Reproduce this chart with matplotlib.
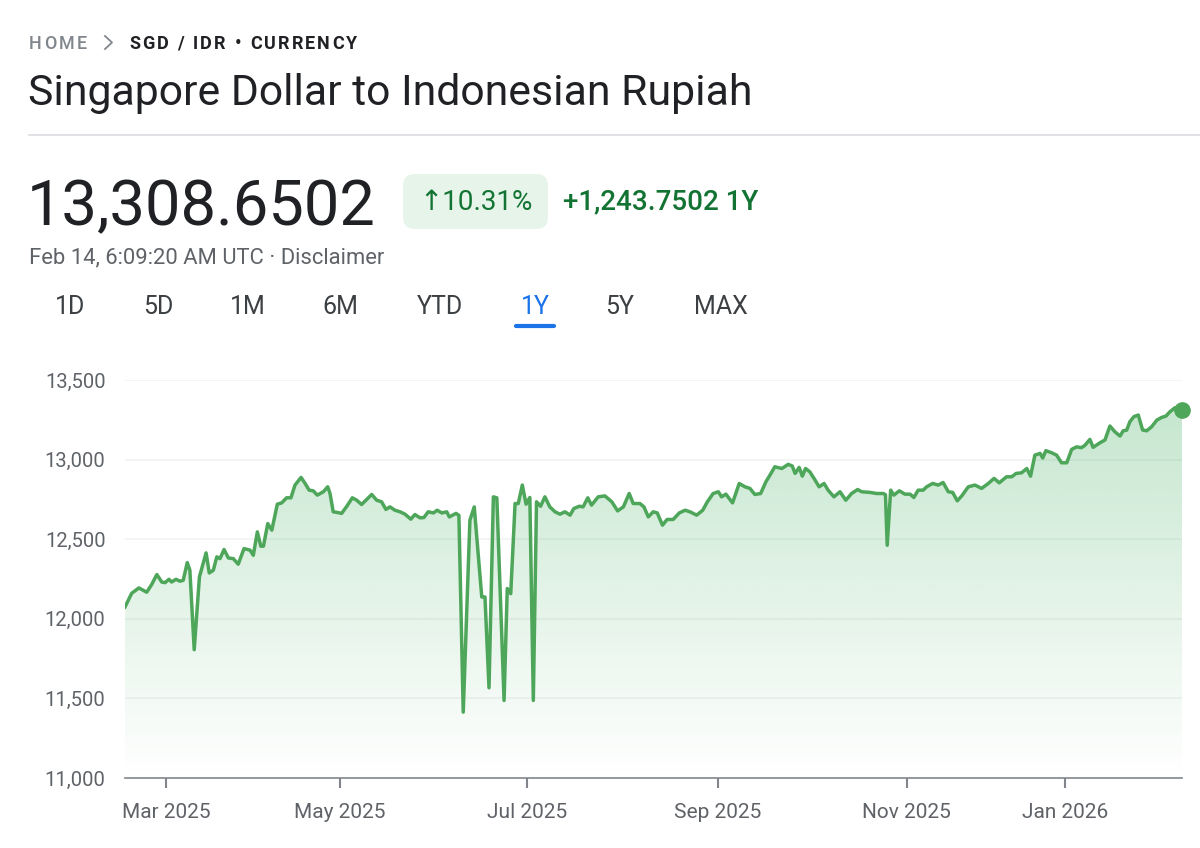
import numpy as np
import matplotlib
matplotlib.use("Agg")
import matplotlib.pyplot as plt
import matplotlib.transforms as mtransforms
from matplotlib.patches import FancyBboxPatch, Polygon
from matplotlib.lines import Line2D
from matplotlib.colors import to_rgb

plt.rcParams['font.family'] = ['Roboto', 'DejaVu Sans']

# x = chart day (0 = Feb 14 2025, 365 = Feb 14 2026) as spaced on the chart
days = [0, 2.3, 4.8, 7.5, 9.2, 11.0, 12.7, 13.8, 15.2, 16.1, 17.6, 19.0, 20.1, 21.5, 22.4, 23.9,
        25.7, 28.0, 29.1, 30.5, 31.7, 32.8, 34.2, 35.7, 37.4, 39.1, 41.1, 43.2, 44.3, 45.7, 46.9,
        47.8, 49.3, 50.7, 52.6, 54.1, 55.8, 57.3, 58.7, 60.8, 62.2, 63.6, 65.0, 66.4, 68.5, 70.0,
        70.8, 71.9, 73.3, 74.8, 76.6, 78.5, 80.0, 81.7, 83.5, 85.2, 86.9, 88.6, 90.1, 91.5, 93.2,
        95.0, 96.7, 98.7, 100.1, 101.9, 103.2, 104.7, 106.5, 107.8, 109.4, 111.1, 112.0, 114.3,
        115.3, 116.8, 119.1, 120.6, 123.2, 124.3, 125.7, 127.2, 128.4, 130.9, 132.0, 133.2, 134.7,
        135.8, 137.2, 138.5, 139.8, 141.0, 142.1, 143.5, 145.0, 146.7, 148.5, 150.2, 151.9, 153.7,
        155.0, 156.9, 158.2, 159.8, 161.1, 163.4, 165.7, 168.1, 170.1, 172.1, 174.1, 175.5, 177.8,
        179.2, 180.7, 182.4, 183.8, 185.6, 187.2, 189.3, 191.4, 193.4, 195.1, 197.4, 199.5, 201.1,
        203.1, 204.9, 206.0, 207.5, 209.8, 212.1, 214.1, 215.8, 217.5, 219.5, 221.3, 222.7, 224.4,
        226.8, 229.0, 230.4, 231.4, 232.8, 233.9, 235.0, 236.5, 238.3, 239.7, 241.4, 242.8, 244.8,
        246.9, 248.9, 250.9, 253.0, 254.4, 257.2, 259.6, 261.8, 262.6, 263.2, 264.4, 265.5, 267.4,
        269.3, 271.1, 272.4, 273.9, 275.6, 276.8, 278.9, 280.8, 282.5, 284.3, 285.8, 287.4, 288.9,
        291.2, 293.5, 295.8, 298.1, 300.1, 301.9, 304.4, 306.2, 307.7, 309.6, 311.4, 312.7, 314.2,
        316.0, 316.9, 318.0, 320.0, 321.7, 323.4, 325.2, 326.9, 328.6, 330.3, 331.5, 333.2, 334.3,
        336.7, 338.4, 340.1, 341.8, 343.6, 344.7, 345.9, 347.0, 348.4, 349.9, 351.4, 352.8, 354.5,
        356.3, 358.0, 359.5, 360.8, 362.6, 365.0]

rate = [12074, 12160, 12194, 12167, 12215, 12278, 12231, 12227, 12248, 12231, 12248, 12236, 12242,
        12353, 12305, 11806, 12263, 12414, 12288, 12305, 12389, 12378, 12435, 12382, 12378, 12343,
        12441, 12431, 12399, 12546, 12456, 12456, 12598, 12557, 12720, 12728, 12760, 12760, 12840,
        12888, 12850, 12808, 12804, 12777, 12798, 12829, 12787, 12672, 12668, 12662, 12707, 12760,
        12745, 12718, 12750, 12781, 12745, 12735, 12687, 12703, 12682, 12672, 12657, 12626, 12655,
        12634, 12636, 12672, 12665, 12682, 12665, 12672, 12640, 12662, 12650, 11414, 12619, 12703,
        12137, 12137, 11567, 12766, 12760, 11487, 12190, 12158, 12724, 12724, 12840, 12720, 12762,
        11487, 12735, 12707, 12766, 12703, 12672, 12657, 12672, 12651, 12693, 12707, 12703, 12760,
        12714, 12766, 12772, 12735, 12678, 12703, 12787, 12724, 12724, 12703, 12640, 12672, 12665,
        12588, 12624, 12624, 12665, 12682, 12672, 12651, 12682, 12735, 12787, 12798, 12766, 12783,
        12728, 12850, 12829, 12819, 12781, 12787, 12860, 12902, 12955, 12944, 12970, 12960, 12913,
        12951, 12896, 12944, 12923, 12871, 12829, 12850, 12808, 12766, 12798, 12745, 12787, 12812,
        12798, 12794, 12787, 12787, 12780, 12462, 12808, 12777, 12804, 12783, 12783, 12762, 12808,
        12808, 12829, 12850, 12840, 12856, 12798, 12794, 12741, 12771, 12829, 12840, 12819, 12850,
        12882, 12854, 12892, 12892, 12913, 12917, 12944, 12896, 13028, 13039, 13010, 13056, 13043,
        13028, 12980, 12980, 13064, 13080, 13075, 13090, 13127, 13077, 13106, 13123, 13211, 13175,
        13148, 13181, 13185, 13238, 13270, 13280, 13186, 13181, 13206, 13248, 13265, 13274, 13300,
        13326, 13309]

month_days = [14.2, 74.2, 138.8, 204.8, 270.0, 324.6]
month_labels = ["Mar 2025", "May 2025", "Jul 2025", "Sep 2025", "Nov 2025", "Jan 2026"]
y_ticks = [11000, 11500, 12000, 12500, 13000, 13500]

tabs = ["1D", "5D", "1M", "6M", "YTD", "1Y", "5Y", "MAX"]
tab_x = [70, 158, 248, 340, 440, 535, 620, 721]

GREEN = "#4ea65a"
DARK = "#202124"
GRAY = "#5f6368"

fig = plt.figure(figsize=(12, 8.48), dpi=100)
fig.patch.set_facecolor("white")
# pixel coordinates, origin top-left
pix = mtransforms.Affine2D().scale(1, -1).translate(0, 848).scale(1 / 1200, 1 / 848) + fig.transFigure
renderer = fig.canvas.get_renderer()

def txt(x, y, s, **kw):
    return fig.text(x, y, s, transform=pix, va="center", **kw)

def spaced(x, y, s, width, **kw):
    # draw s letter by letter, stretched to the given pixel width
    widths = []
    for ch in s:
        t = txt(0, 0, ch if ch != " " else "i", **kw)
        widths.append(t.get_window_extent(renderer).width)
        t.remove()
    gap = (width - sum(widths)) / (len(s) - 1)
    for ch, w in zip(s, widths):
        if ch != " ":
            txt(x, y, ch, **kw)
        x += w + gap

# header
spaced(29, 44, "HOME", 58, fontsize=13, color="#80868b", fontweight="medium")
fig.add_artist(Line2D([105, 112, 105], [36, 42.5, 49], transform=pix, color="#80868b", lw=1.3))
spaced(129, 44, "SGD / IDR \u2022 CURRENCY", 228, fontsize=13, color=DARK, fontweight="semibold")
txt(28, 94, "Singapore Dollar to Indonesian Rupiah", fontsize=30.8, color=DARK)
fig.add_artist(Line2D([29, 1200], [135, 135], transform=pix, color="#dadce0", lw=1.2))

txt(27, 208, "13,308.6502", fontsize=45.5, color=DARK)
fig.add_artist(FancyBboxPatch((403, 174), 145, 55, boxstyle="round,pad=0,rounding_size=12",
                              transform=pix, facecolor="#e6f4ea", edgecolor="none"))
txt(476, 202, "\u219110.31%", fontsize=20, color="#137333", ha="center")
txt(563, 202, "+1,243.7502 1Y", fontsize=20, color="#137333", fontweight="medium")
txt(29, 258, "Feb 14, 6:09:20 AM UTC \u00b7 Disclaimer", fontsize=15.8, color=GRAY)

for lab, x in zip(tabs, tab_x):
    c = "#1a73e8" if lab == "1Y" else "#3c4043"
    txt(x, 307, lab, fontsize=18, color=c, ha="center")
fig.add_artist(Line2D([516, 554], [326, 326], transform=pix, color="#1a73e8", lw=3,
                      solid_capstyle="round"))

# chart
ax = fig.add_axes([125 / 1200, 1 - 778 / 848, 1057 / 1200, 398 / 848])
ax.set_xlim(0, 365)
ax.set_ylim(11000, 13500)

x = np.array(days)
y = np.array(rate)

verts = np.column_stack([np.r_[x[0], x, x[-1]], np.r_[11000, y, 11000]])
poly = Polygon(verts, closed=True, facecolor="none", edgecolor="none")
ax.add_patch(poly)
img = np.zeros((256, 1, 4))
img[..., :3] = to_rgb("#34a853")
img[:, 0, 3] = np.linspace(0.0, 0.3, 256)
im = ax.imshow(img, extent=[0, 365, 11000, 13500], origin="lower", aspect="auto", zorder=1)
im.set_clip_path(poly)

ax.plot(x, y, color=GREEN, lw=2.5, zorder=3, solid_joinstyle="round")
ax.plot(x[-1], y[-1], "o", color=GREEN, ms=11, zorder=4, clip_on=False)

for v in y_ticks[1:]:
    ax.axhline(v, color="#f1f3f4", lw=1.2, zorder=0)

for s in ["top", "right", "left"]:
    ax.spines[s].set_visible(False)
ax.spines["bottom"].set_color("#80868b")
ax.spines["bottom"].set_linewidth(1.2)

ax.set_yticks(y_ticks)
ax.set_yticklabels([f"{v:,}" for v in y_ticks])
ax.tick_params(axis="y", length=0, pad=14, labelsize=14.5, labelcolor=GRAY)
ax.set_xticks(month_days)
ax.set_xticklabels(month_labels)
ax.tick_params(axis="x", length=7, width=1.5, color="#80868b", pad=11, labelsize=15,
               labelcolor=GRAY, direction="out")

fig.savefig("out.png", dpi=100, facecolor="white")
